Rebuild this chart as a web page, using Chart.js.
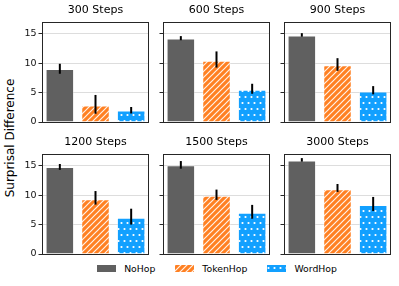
<!DOCTYPE html>
<html>
<head>
<meta charset="utf-8">
<script src="https://cdn.jsdelivr.net/npm/chart.js@4.4.0/dist/chart.umd.min.js"></script>
<style>
  body { margin: 0; background: #fff; }
  #fig { position: relative; width: 399px; height: 286px; font-family: "DejaVu Sans", sans-serif; color: #000; }
  #fig canvas.panel { position: absolute; }
  #ylabel { position: absolute; left: 10px; top: 138px; transform: translate(-50%, -50%) rotate(-90deg); font-size: 12px; white-space: nowrap; }
  #legend { position: absolute; left: 42px; width: 350px; top: 263px; display: flex; justify-content: center; gap: 20px; font-size: 9.3px; }
  #legend .item { display: flex; align-items: center; gap: 8px; }
  #legend canvas { display: block; }
</style>
</head>
<body>
<div id="fig">
  <div id="ylabel">Surprisal Difference</div>
  <div id="legend"></div>
</div>
<script>
// values
const steps = ['300', '600', '900', '1200', '1500', '3000']
const models = ['NoHop', 'TokenHop', 'WordHop']
const yTicks = [0, 5, 10, 15]

const noHop     = [9.0, 14.2, 14.7, 14.8, 15.1, 15.9]
const noHopLo   = [8.2, 13.9, 14.5, 14.3, 14.5, 15.7]
const noHopHi   = [9.9, 14.6, 15.1, 15.3, 15.8, 16.3]

const tokenHop   = [2.8, 10.4, 9.65, 9.3, 9.9, 11.0]
const tokenHopLo = [1.4, 9.25, 8.7, 8.4, 9.2, 10.55]
const tokenHopHi = [4.6, 12.0, 10.85, 10.7, 10.95, 11.9]

const wordHop   = [1.95, 5.5, 5.2, 6.15, 7.0, 8.35]
const wordHopLo = [1.45, 4.8, 4.7, 5.0, 6.0, 7.3]
const wordHopHi = [2.55, 6.5, 6.1, 7.7, 8.35, 9.7]

const FONT = '"DejaVu Sans", sans-serif'
const GREY = '#606060'
const ORANGE = '#ff8022'
const BLUE = '#12a0ff'

function hatch(bg) {
	const t = document.createElement('canvas')
	t.width = 6; t.height = 6
	const g = t.getContext('2d')
	g.fillStyle = bg
	g.fillRect(0, 0, 6, 6)
	g.strokeStyle = 'rgba(255,255,255,0.9)'
	g.lineWidth = 1.2
	g.beginPath()
	g.moveTo(0, 6); g.lineTo(6, 0)
	g.moveTo(-1, 1); g.lineTo(1, -1)
	g.moveTo(5, 7); g.lineTo(7, 5)
	g.stroke()
	return g.createPattern(t, 'repeat')
}

function dots(bg) {
	const t = document.createElement('canvas')
	t.width = 6; t.height = 12
	const g = t.getContext('2d')
	g.fillStyle = bg
	g.fillRect(0, 0, 6, 12)
	g.fillStyle = '#fff'
	g.beginPath()
	g.arc(1.5, 3, 1.1, 0, Math.PI * 2)
	g.closePath()
	g.arc(4.5, 9, 1.1, 0, Math.PI * 2)
	g.fill()
	return g.createPattern(t, 'repeat')
}

const fills = [GREY, hatch(ORANGE), dots(BLUE)]

// error bars drawn through the y scale
const errorBars = {
	id: 'errorBars',
	afterDatasetsDraw(chart, args, opts) {
		const ctx = chart.ctx
		const y = chart.scales.y
		const bars = chart.getDatasetMeta(0).data
		ctx.save()
		ctx.strokeStyle = '#000'
		ctx.lineWidth = 2
		bars.forEach((bar, j) => {
			ctx.beginPath()
			ctx.moveTo(bar.x, y.getPixelForValue(opts.lo[j]))
			ctx.lineTo(bar.x, y.getPixelForValue(opts.hi[j]))
			ctx.stroke()
		})
		ctx.restore()
	}
}

const frame = {
	id: 'frame',
	afterDatasetsDraw(chart) {
		const a = chart.chartArea
		const ctx = chart.ctx
		ctx.save()
		ctx.strokeStyle = '#262626'
		ctx.lineWidth = 1
		ctx.strokeRect(Math.round(a.left) + 0.5, Math.round(a.top) + 0.5, Math.round(a.right - a.left) - 1, Math.round(a.bottom - a.top))
		ctx.restore()
	}
}

const fig = document.getElementById('fig')
const colLeft = [42, 163, 284]
const rowTop = [22, 154]

steps.forEach((step, i) => {
	const row = Math.floor(i / 3)
	const col = i % 3
	const cv = document.createElement('canvas')
	cv.className = 'panel'
	cv.width = 140
	cv.height = 122
	cv.style.left = (colLeft[col] - 30) + 'px'
	cv.style.top = (rowTop[row] - 18) + 'px'
	fig.appendChild(cv)

	new Chart(cv, {
		type: 'bar',
		data: {
			labels: models,
			datasets: [{
				data: [noHop[i], tokenHop[i], wordHop[i]],
				backgroundColor: fills,
				borderColor: 'rgba(255,255,255,0.35)',
				borderWidth: 1,
				categoryPercentage: 1,
				barPercentage: 0.8
			}]
		},
		options: {
			responsive: false,
			animation: false,
			devicePixelRatio: 1,
			layout: { padding: { right: 3, bottom: 4 } },
			plugins: {
				legend: { display: false },
				tooltip: { enabled: false },
				title: {
					display: true,
					text: step + ' Steps',
					fullSize: false,
					color: '#000',
					padding: { top: 0, bottom: 4.8 },
					font: { family: FONT, size: 11, weight: 'normal' }
				},
				errorBars: {
					lo: [noHopLo[i], tokenHopLo[i], wordHopLo[i]],
					hi: [noHopHi[i], tokenHopHi[i], wordHopHi[i]]
				}
			},
			scales: {
				x: { display: false },
				y: {
					min: 0,
					max: 17,
					afterBuildTicks: s => { s.ticks = yTicks.map(v => ({ value: v })) },
					afterFit: s => { s.width = 30; s.paddingTop = 0; s.paddingBottom = 0 },
					border: { display: false },
					grid: {
						color: c => (c.tick && c.tick.value === 0) ? 'rgba(0,0,0,0)' : '#dddddd',
						tickColor: '#262626',
						tickLength: 3.5,
						lineWidth: 1
					},
					ticks: {
						display: col === 0,
						padding: 2,
						color: '#111',
						font: { family: FONT, size: 9.5 }
					}
				}
			}
		},
		plugins: [errorBars, frame]
	})
})

// legend, built from the same fills
const legend = document.getElementById('legend')
models.forEach((m, j) => {
	const item = document.createElement('div')
	item.className = 'item'
	const sw = document.createElement('canvas')
	sw.width = 19
	sw.height = 7
	const g = sw.getContext('2d')
	g.fillStyle = fills[j]
	g.fillRect(0, 0, 19, 7)
	const label = document.createElement('span')
	label.textContent = m
	item.appendChild(sw)
	item.appendChild(label)
	legend.appendChild(item)
})
</script>
</body>
</html>
